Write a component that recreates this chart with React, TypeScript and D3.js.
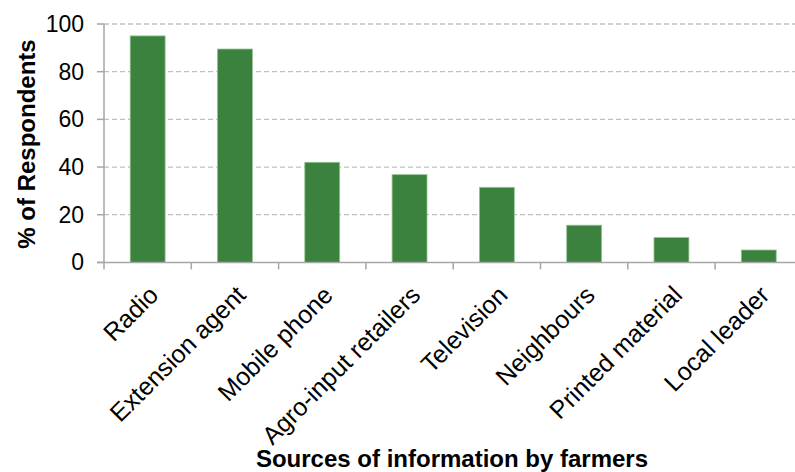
import React from "react";
import * as d3 from "d3";

const categories = [
  "Radio",
  "Extension agent",
  "Mobile phone",
  "Agro-input retailers",
  "Television",
  "Neighbours",
  "Printed material",
  "Local leader",
];
const values = [95, 89.5, 42, 36.8, 31.5, 15.6, 10.4, 5.2];
const yTicks = [0, 20, 40, 60, 80, 100];
const yTitle = "% of Respondents";
const xTitle = "Sources of information by farmers";

const W = 795;
const H = 472;
const left = 104;
const right = 802.4;
const top = 24;
const bottom = 262.4;

export default function App() {
  const x = d3
    .scaleBand<string>()
    .domain(categories)
    .range([left, right])
    .paddingInner(0.6)
    .paddingOuter(0.3);
  const y = d3.scaleLinear().domain([0, 100]).range([bottom, top]);
  const step = x.step();
  const font = "Arial, 'Liberation Sans', sans-serif";

  return (
    <div style={{ position: "absolute", left: 0, top: 0 }}>
      <svg width={W} height={H} style={{ display: "block" }}>
        <rect width={W} height={H} fill="#fff" />
        {yTicks
          .filter((t) => t > 0)
          .map((t) => (
            <line
              key={"g" + t}
              x1={left}
              x2={W}
              y1={y(t)}
              y2={y(t)}
              stroke="#bfbfbf"
              strokeWidth={1.3}
              strokeDasharray="5,3"
            />
          ))}
        {values.map((v, i) => (
          <rect
            key={categories[i]}
            x={x(categories[i])}
            y={y(v)}
            width={x.bandwidth()}
            height={y(0) - y(v)}
            fill="#3a823d"
            stroke="#94c494"
            strokeWidth={0.8}
          />
        ))}
        {/* y axis */}
        <line x1={left} x2={left} y1={top} y2={bottom} stroke="#a6a6a6" strokeWidth={1.5} />
        {yTicks.map((t) => (
          <g key={"t" + t}>
            <line x1={left - 7} x2={left} y1={y(t)} y2={y(t)} stroke="#a6a6a6" strokeWidth={1.5} />
            <text
              x={84}
              y={y(t)}
              dy="0.35em"
              textAnchor="end"
              fontFamily={font}
              fontSize={23}
              fill="#000"
            >
              {t}
            </text>
          </g>
        ))}
        {/* x axis */}
        <line x1={left - 7} x2={W} y1={bottom} y2={bottom} stroke="#a6a6a6" strokeWidth={1.5} />
        {d3.range(categories.length + 1).map((i) => (
          <line
            key={"xt" + i}
            x1={left + i * step}
            x2={left + i * step}
            y1={bottom}
            y2={bottom + 7}
            stroke="#a6a6a6"
            strokeWidth={1.5}
          />
        ))}
        {categories.map((c) => {
          const cx = (x(c) as number) + x.bandwidth() / 2;
          return (
            <text
              key={"l" + c}
              transform={`translate(${cx + 6},${bottom + 28}) rotate(-45)`}
              textAnchor="end"
              dy="0.35em"
              fontFamily={font}
              fontSize={25}
              fill="#000"
            >
              {c}
            </text>
          );
        })}
        <text
          transform={`translate(35,144) rotate(-90)`}
          textAnchor="middle"
          fontFamily={font}
          fontSize={24}
          fontWeight="bold"
          fill="#000"
        >
          {yTitle}
        </text>
        <text
          x={452}
          y={467}
          textAnchor="middle"
          fontFamily={font}
          fontSize={24}
          fontWeight="bold"
          fill="#000"
        >
          {xTitle}
        </text>
      </svg>
    </div>
  );
}
